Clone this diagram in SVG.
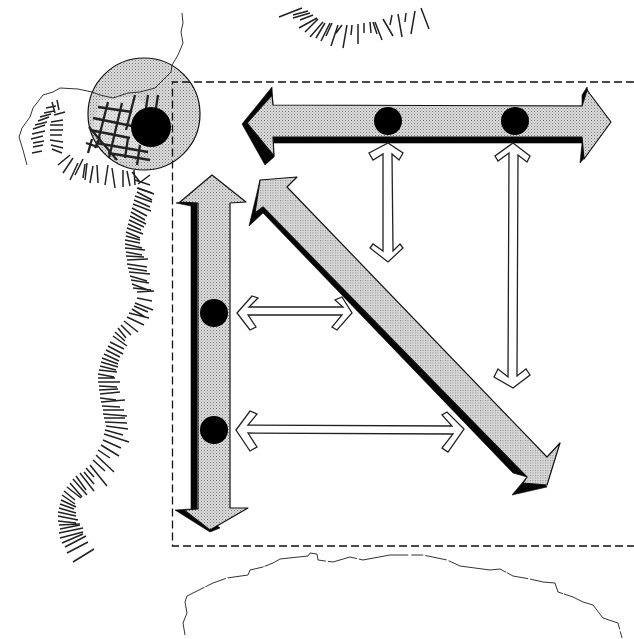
<svg xmlns="http://www.w3.org/2000/svg" width="634" height="639" viewBox="0 0 634 639">
<style>
.thin{fill:none;stroke:#333;stroke-width:1;stroke-linejoin:round}
.tick{fill:none;stroke:#222;stroke-width:1.5}
.tone{fill:url(#ht);stroke:#111;stroke-width:1.2;stroke-linejoin:round}
.fine{fill:url(#hf);stroke:#111;stroke-width:1.2;stroke-linejoin:round}
.blk{fill:#050505;stroke:#050505;stroke-width:.6;stroke-linejoin:round}
.dot{fill:#000}
.open{fill:#fff;stroke:#222;stroke-width:1.3;stroke-linejoin:miter}
</style>
<defs>
<pattern id="ht" width="3" height="3" patternUnits="userSpaceOnUse"><rect width="3" height="3" fill="#dcdcdc"/><rect width="1" height="1" fill="#777"/><rect x="1.5" y="1.500" width="1" height="1" fill="#999"/></pattern>
<pattern id="hf" width="2.5" height="2.5" patternUnits="userSpaceOnUse"><rect width="2.5" height="2.5" fill="#d8d8d8"/><rect width="1" height="1" fill="#888"/></pattern>
</defs>
<rect width="634" height="639" fill="#fff"/>
<g id="terrain">
<path class="thin" d="M182 13L183 23L181 32L183 43L178 55L172 65L171 72L163 80L155 88L140 92L128 93L113 98L100 95L92 92L78 89L60 88L53 92L43 95L33 108L30 117L22 128L19 137L23 150L27 165"/>
<path class="thin" stroke-dasharray="60 1 22 2 40 1 70 2 30 2 50 3 12 2 22 2" d="M185 635L183 623L187 613L185 602L187 596L203 588L213 583L227 578L248 575L250 570L263 567L273 563L280 559L308 556L310 553L317 554L318 560L333 562L350 557L363 560L390 555L403 555L423 555L447 560L460 566L490 570L500 569L513 576L530 579L543 582L555 583L558 592L573 597L583 602L593 605L603 618L618 623L622 638"/>
</g>
<g id="headland-circle">
<circle class="tone" cx="144" cy="114" r="56"/>
<path d="M100 100L135 96L150 110L148 150L130 160L110 158L92 128Z" fill="#fff" fill-opacity=".3"/>
<path class="thin" d="M172 65L171 72L163 80L155 88L140 92L128 93L113 98L100 95L92 92"/>
<path d="M108 102L99 137M122 103L112 145M135 95L126 130M148 95L146 108M158 95L156 108M100 137L95 148M128 138L125 158M140 145L137 165M112 145L109 158M98 107L132 112M93 118L132 126M90 130L130 138M96 143L148 152M108 153L150 160M89 127L117 160M86 143L98 147M92 139L88 153" fill="none" stroke="#222" stroke-width="2.300"/>
<circle class="dot" cx="151" cy="127" r="20"/>
</g>
<g id="hatching">
<path class="tick" d="M32 153l10-2M33 147l10-2M33 143l11-2M31 139l12-3M32 134l13-3M33 129l12-4M35 125l12-3M38 121l11-4M40 117l11-3M44 113l10-2M46 108l10-2M52 102l3 11M57 100l2 10M65 112l-11 3M63 120l-12 2M63 125l-13 0M63 130l-13 0M62 135l-12 0M63 142l-13-2M63 148l-12-3M62 153l-10-4M58 165l12-10M63 173l10-15M70 180l8-17M75 175l8-16M85 180l2-17M83 178l2-14M90 183l3-17M98 183l-1-18M105 185l3-20M115 188l-3-20M123 187l0-17M130 186l-3-15M135 185l-1-15M140 182l-8-10M150 175l-12 9M150 185l-15-5M152 193l-15-5"/>
<path class="tick" d="M138 188l16 6M137 192l15 8M135 196l17 6M134 200l16 7M133 204l18 7M132 208l15 8M131 212l14 8M130 216l16 8M129 220l15 7M128 224l13 6M127 228l16 6M126 232l14 6M126 236l14 4M125 240l15 3M125 244l17 4M125 248l20 2M126 252l16 3M126 256l18 1M127 260l21-1M127 264l20 3M128 268l19 3M129 272l21 2M130 276l17 5M131 280l18 3M132 284l16 6M133 288l18 2M137 292l17-1M137 298l15 3M135 303l18 7M134 306l14 6M132 309l13 8M129 313l20 5M127 317l17 8M124 321l14 11M121 325l10 10M118 328l8 10M115 332l10 9M113 336l14 10M110 342l14 7M108 346l15 8M106 350l14 7M104 354l15 7M102 358l16 6M101 362l17 5M100 366l16 4M99 370l18 2M98 374l16 3M98 378l17 0M98 382l22 0M99 386l18 1M99 390l19-1M100 394l20-2M100 398l16 2M101 402l24-2M102 406l18 1M103 410l21 0M103 414l24 2M104 418l21 0M105 422l22 1M106 426l22 3M105 430l18 5M104 434l25 8M103 440l18 8M101 445l18 11M98 450l12 8M96 455l18 17M93 460l12 11M90 465l17 21M86 468l8 9M84 472l10 12M80 473l14 18M76 476l10 14M73 479l14 16M70 483l12 14M67 487l14 11M64 491l11 9M62 495l13 9M61 500l15 7M60 504l14 5M59 508l17 5M58 512l18 4M58 516l20 4M58 521l18 2M59 525l21-1M60 529l20-4M59 533l24-5M60 538l23-6M62 543l21-9M65 547l21-11M67 553l21-11M73 562l21-13"/>
<path class="tick" d="M279 17l23-9M293 15l15-4M293 18l17-5M300 20l13-5M299 28l18-10M305 32l13-13M310 37l13-15M316 38l9-15M321 41l9-18M326 36l6-13M331 46l7-21M336 33l6-8M343 48l4-23M351 35l1-10M358 44l0-20M364 33l0-10M371 33l-1-11M377 34l-4-12M382 40l-7-18M393 36l-10-17M390 25l2-10M402 37l-4-23M405 22l1-9M411 34l4-23M429 29l-8-21"/>
</g>
<g id="study-area">
<path fill="none" stroke="#111" stroke-width="1.300" stroke-dasharray="8 4" d="M634 82H172.500V546H634"/>
</g>
<g id="arrow-top">
<path class="blk" d="M272 87L242 124L265 165L274 157L273 143H582L580 163L587 155L590 100L587 87L582 95V106H273Z"/>
<path class="tone" d="M247 123L272 95L273 105L582 106L587 90L611 122L584 159L582 137L273 137L274 156Z"/>
<circle class="dot" cx="388" cy="121" r="14"/>
<circle class="dot" cx="515" cy="121" r="14"/>
</g>
<g id="arrow-left">
<path class="blk" d="M176 203L197 198V508L220 528L210 532L175 510L191 509V206Z"/>
<path class="tone" d="M212 175L246 202L230 203L230 508L248 508L210 530L184 510L198 509L198 203L180 202Z"/>
<circle class="dot" cx="214" cy="313" r="14"/>
<circle class="dot" cx="214" cy="430" r="14"/>
</g>
<g id="arrow-diagonal">
<path class="blk" d="M260 180L249 226L263 213L513 473L527 477L512 495L547 487L535 470L290 200Z"/>
<path class="fine" d="M260 180L297 177L287 187L547 457L560 443L547 485L523 483L527 477L263 207L255 213Z"/>
</g>
<g id="connectors">
<path class="open" d="M388 143L403 153L399 160L392 154L393 251L400 244L403 248L388 262L370 248L373 244L383 251L383 154L373 160L369 153Z"/>
<path class="open" d="M513 143L530 156L527 162L518 155L517 376L526 369L530 375L513 388L494 377L498 369L508 377L509 153L498 161L495 156Z"/>
<path class="open" d="M237 313L252 296L258 298L249 307L343 307L335 300L342 297L352 313L337 330L332 327L342 315L248 315L256 327L250 330Z"/>
<path class="open" d="M236 430L250 411L257 414L248 425L452 426L442 415L447 412L464 429L448 452L442 448L453 434L248 433L257 447L250 451Z"/>
</g>
</svg>
